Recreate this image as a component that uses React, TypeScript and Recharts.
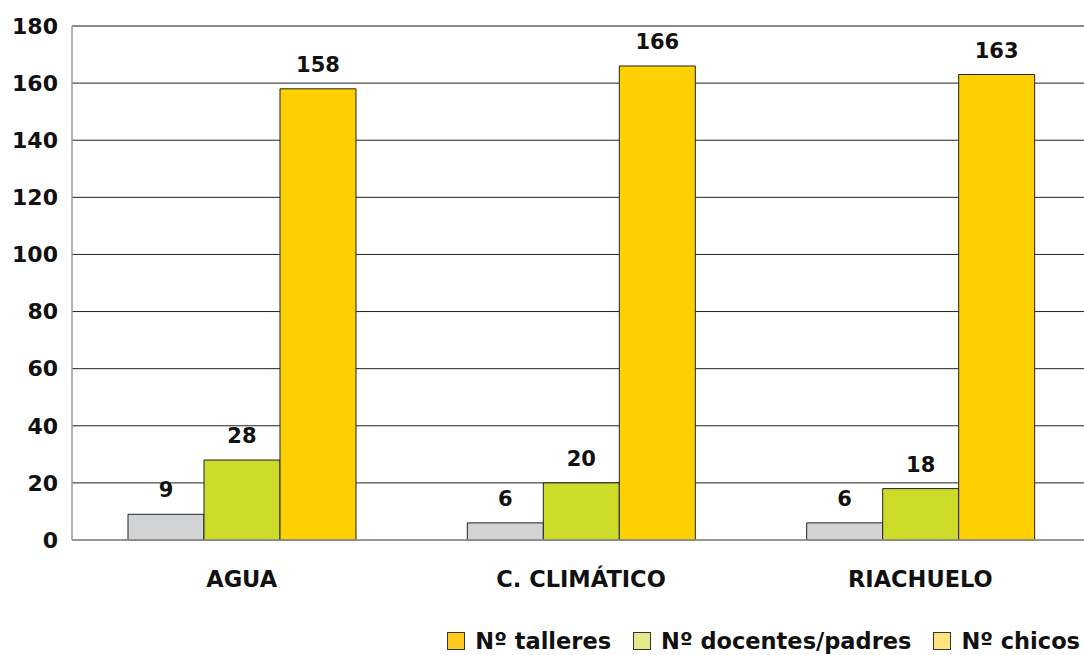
import React from "react";
import { BarChart, Bar, XAxis, YAxis, CartesianGrid, LabelList, Legend, ReferenceLine } from "recharts";

const categories = ["AGUA", "C. CLIMÁTICO", "RIACHUELO"];
const grayValues = [9, 6, 6];
const greenValues = [28, 20, 18];
const yellowValues = [158, 166, 163];
const yTicks = [0, 20, 40, 60, 80, 100, 120, 140, 160, 180];
const legendItems = [
  { label: "Nº talleres", color: "#FFCB1F" },
  { label: "Nº docentes/padres", color: "#E3E98C" },
  { label: "Nº chicos", color: "#FFE47E" },
];

const data = categories.map((c, i) => ({
  name: c,
  gray: grayValues[i],
  green: greenValues[i],
  yellow: yellowValues[i],
}));

const FONT = "'DejaVu Sans', sans-serif";

const LegendContent = () => (
  <div
    style={{
      display: "flex",
      justifyContent: "flex-end",
      alignItems: "center",
      fontFamily: FONT,
      fontWeight: 700,
      fontSize: 22.5,
      lineHeight: "28px",
      height: 28,
      width: 1084,
      color: "#111",
      paddingRight: 4,
      boxSizing: "border-box",
    }}
  >
    {legendItems.map((it, i) => (
      <div key={it.label} style={{ display: "flex", alignItems: "center", marginLeft: i === 0 ? 0 : 22 }}>
        <span
          style={{
            display: "inline-block",
            width: 18,
            height: 18,
            background: it.color,
            border: "1.5px solid #333",
            marginRight: 10,
            boxSizing: "border-box",
          }}
        />
        <span>{it.label}</span>
      </div>
    ))}
  </div>
);

export default function App() {
  return (
    <div style={{ position: "absolute", left: 0, top: 0, width: 1084, height: 655, background: "#fff", overflow: "hidden" }}>
      <BarChart
        width={1084}
        height={655}
        data={data}
        margin={{ top: 26, right: -6, left: 0, bottom: 0 }}
        barCategoryGap="16.5%"
        barGap={0}
      >
        <CartesianGrid vertical={false} horizontal={true} stroke="#222" strokeWidth={1} />
        <ReferenceLine y={180} stroke="#888" strokeWidth={1.5} />
        <XAxis
          dataKey="name"
          axisLine={{ stroke: "#999", strokeWidth: 1.5 }}
          tickLine={false}
          height={87}
          tick={{ fontFamily: FONT, fontWeight: 700, fontSize: 22.5, fill: "#111", dy: 23 }}
        />
        <YAxis
          domain={[0, 180]}
          ticks={yTicks}
          width={72}
          axisLine={{ stroke: "#999", strokeWidth: 1.5 }}
          tickLine={false}
          interval={0}
          tick={{ fontFamily: FONT, fontWeight: 700, fontSize: 22, fill: "#111", dx: -6 }}
        />
        <Legend verticalAlign="bottom" height={28} wrapperStyle={{ left: 0, width: 1084 }} content={<LegendContent />} />
        <Bar dataKey="gray" fill="#D1D3D4" stroke="#222" strokeWidth={1} isAnimationActive={false}>
          <LabelList dataKey="gray" position="top" offset={17} style={{ fontFamily: FONT, fontWeight: 700, fontSize: 21, fill: "#111" }} />
        </Bar>
        <Bar dataKey="green" fill="#CDDC29" stroke="#222" strokeWidth={1} isAnimationActive={false}>
          <LabelList dataKey="green" position="top" offset={17} style={{ fontFamily: FONT, fontWeight: 700, fontSize: 21, fill: "#111" }} />
        </Bar>
        <Bar dataKey="yellow" fill="#FFD000" stroke="#222" strokeWidth={1} isAnimationActive={false}>
          <LabelList dataKey="yellow" position="top" offset={17} style={{ fontFamily: FONT, fontWeight: 700, fontSize: 21, fill: "#111" }} />
        </Bar>
      </BarChart>
    </div>
  );
}
